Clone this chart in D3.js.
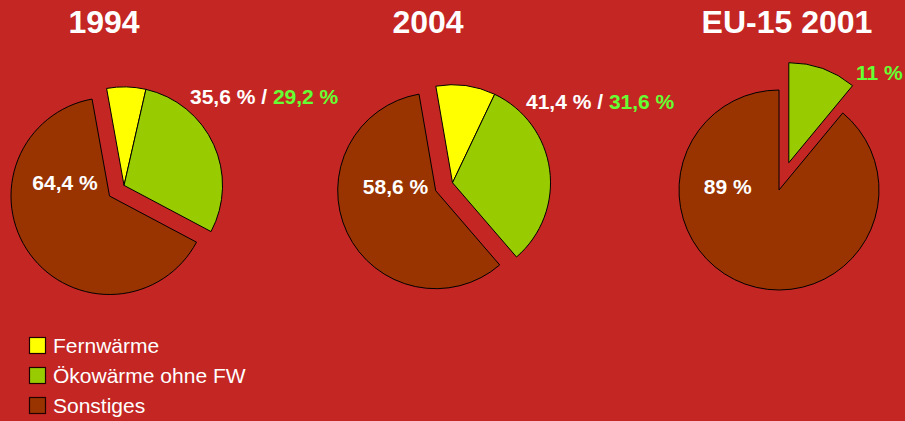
<!DOCTYPE html>
<html>
<head>
<meta charset="utf-8">
<script src="https://cdn.jsdelivr.net/npm/d3@7"></script>
<style>
  html, body { margin: 0; padding: 0; background: #C42623; }
  svg { display: block; }
  text { font-family: "Liberation Sans", Arial, sans-serif; }
</style>
</head>
<body>
<div id="grafik"></div>
<script>
// Daten
const kategorien = ["Fernwärme", "Ökowärme ohne FW", "Sonstiges"];
const farben = ["#FFFF00", "#99CC00", "#993300"];
const titel = ["1994", "2004", "EU-15 2001"];
const fernwaerme = [6.4, 9.8, 0];
const oekowaerme = [29.2, 31.6, 11];
const sonstiges = [64.4, 58.6, 89];

// Layout
const breite = 905, hoehe = 421;
const radien = [98.5, 98, 100];
const mitten = [[109.5, 196], [435.7, 190.7], [779, 190]];
const startWinkel = [-10.2, -9.8, 0];
const abstand = [18, 18.6, 29];
const titelX = [104, 428, 787];
const innenLabel = [[65, 190], [395.5, 194.3], [727.7, 194]];
const aussenLabel = [[190, 104], [526, 109.3], [856, 80]];

const fmt = v => (Number.isInteger(v) ? String(v) : d3.format(".1f")(v).replace(".", ",")) + " %";

const svg = d3.select("#grafik").append("svg")
  .attr("width", breite)
  .attr("height", hoehe);

svg.append("rect")
  .attr("width", breite)
  .attr("height", hoehe)
  .attr("fill", "#C42623");

titel.forEach((t, i) => {
  const werte = [fernwaerme[i], oekowaerme[i], sonstiges[i]];
  const s = startWinkel[i] * Math.PI / 180;
  const pie = d3.pie().sort(null).value(d => d)
    .startAngle(s).endAngle(s + 2 * Math.PI);
  const stuecke = pie(werte);
  const bogen = d3.arc().innerRadius(0).outerRadius(radien[i]);

  const g = svg.append("g")
    .attr("transform", `translate(${mitten[i][0]},${mitten[i][1]})`);

  // herausgezogene Gruppe (Fernwärme + Ökowärme)
  const mitte = (stuecke[0].startAngle + stuecke[1].endAngle) / 2;
  const dx = Math.sin(mitte) * abstand[i];
  const dy = -Math.cos(mitte) * abstand[i];

  const raus = g.append("g").attr("transform", `translate(${dx},${dy})`);
  raus.selectAll("path")
    .data(stuecke.slice(0, 2).filter(d => d.value > 0))
    .enter().append("path")
    .attr("d", bogen)
    .attr("fill", d => farben[d.index])
    .attr("stroke", "#000")
    .attr("stroke-width", 1)
    .attr("stroke-linejoin", "round");

  g.append("path")
    .datum(stuecke[2])
    .attr("d", bogen)
    .attr("fill", farben[2])
    .attr("stroke", "#000")
    .attr("stroke-width", 1)
    .attr("stroke-linejoin", "round");

  // Titel
  svg.append("text")
    .attr("x", titelX[i])
    .attr("y", 33)
    .attr("text-anchor", "middle")
    .attr("font-size", 32)
    .attr("font-weight", "bold")
    .attr("fill", "#fff")
    .text(t);

  // Sonstiges-Label
  svg.append("text")
    .attr("x", innenLabel[i][0])
    .attr("y", innenLabel[i][1])
    .attr("text-anchor", "middle")
    .attr("font-size", 21)
    .attr("font-weight", "bold")
    .attr("fill", "#fff")
    .text(fmt(sonstiges[i]));

  // Aussen-Label
  const lab = svg.append("text")
    .attr("x", aussenLabel[i][0])
    .attr("y", aussenLabel[i][1])
    .attr("font-size", 21)
    .attr("font-weight", "bold")
    .attr("fill", "#fff");
  if (fernwaerme[i] > 0) {
    lab.append("tspan").text(fmt(+(fernwaerme[i] + oekowaerme[i]).toFixed(1)) + " / ");
  }
  lab.append("tspan").attr("fill", "#66FF33").text(fmt(oekowaerme[i]));
});

// Legende
const legende = svg.append("g").attr("transform", "translate(29,337)");
const eintrag = legende.selectAll("g")
  .data(kategorien)
  .enter().append("g")
  .attr("transform", (d, i) => `translate(0,${i * 30})`);

eintrag.append("rect")
  .attr("x", 0.5)
  .attr("y", 0.5)
  .attr("width", 16)
  .attr("height", 16)
  .attr("fill", (d, i) => farben[i])
  .attr("stroke", "#220000")
  .attr("stroke-width", 1.2);

eintrag.append("text")
  .attr("x", 24)
  .attr("y", 15.5)
  .attr("font-size", 21)
  .attr("fill", "#fff")
  .text(d => d);
</script>
</body>
</html>
